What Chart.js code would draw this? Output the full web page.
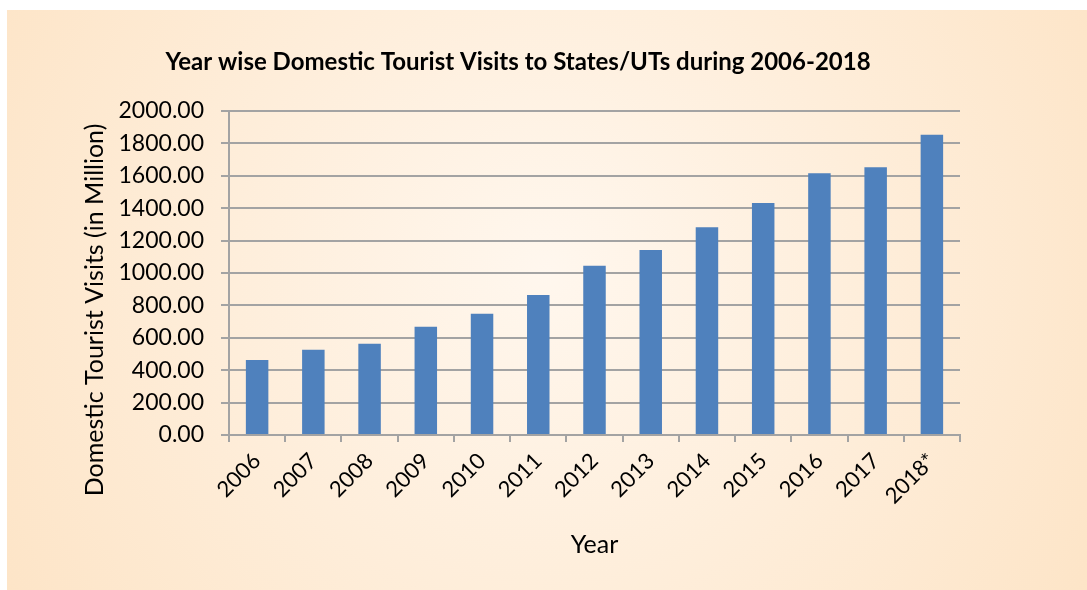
<!DOCTYPE html>
<html>
<head>
<meta charset="utf-8">
<script src="https://cdn.jsdelivr.net/npm/chart.js@4/dist/chart.umd.min.js"></script>
<style>
  html, body { margin: 0; padding: 0; background: #fff; }
  #wrap { position: absolute; left: 7px; top: 10px; width: 1080px; height: 580px; }
</style>
</head>
<body>
<div id="wrap"><canvas id="chart"></canvas></div>
<script>
const years = ['2006', '2007', '2008', '2009', '2010', '2011', '2012', '2013', '2014', '2015', '2016', '2017', '2018*'];
const visits = [462.32, 526.56, 563.03, 668.80, 747.70, 864.53, 1045.05, 1142.53, 1282.80, 1431.97, 1615.39, 1652.49, 1853.79];
const chartTitle = 'Year wise Domestic Tourist Visits to States/UTs during 2006-2018';
const yTitle = 'Domestic Tourist Visits (in Million)';
const xTitle = 'Year';

const FONT = 'Lato, "Open Sans", sans-serif';
const GRID = '#a3a3a3';

// peach background + texts Excel places off-centre
const decor = {
  id: 'decor',
  beforeDraw(chart) {
    const { ctx, width, height } = chart;
    const g = ctx.createRadialGradient(width * 0.5, height * 0.45, 0, width * 0.5, height * 0.45, width * 0.6);
    g.addColorStop(0, '#fff7ee');
    g.addColorStop(1, '#fde4c6');
    ctx.save();
    ctx.fillStyle = g;
    ctx.fillRect(0, 0, width, height);
    ctx.restore();
  },
  afterDraw(chart) {
    const { ctx, chartArea } = chart;
    ctx.save();
    ctx.fillStyle = '#000';
    ctx.textAlign = 'center';
    ctx.textBaseline = 'middle';
    ctx.font = 'bold 24px ' + FONT;
    ctx.fillText(chartTitle, 511, 52);
    ctx.font = '25px ' + FONT;
    ctx.fillText(xTitle, (chartArea.left + chartArea.right) / 2, 535);
    ctx.translate(88, 300);
    ctx.rotate(-Math.PI / 2);
    ctx.fillText(yTitle, 0, 0);
    ctx.restore();
  }
};

new Chart(document.getElementById('chart'), {
  type: 'bar',
  data: {
    labels: years,
    datasets: [{
      label: 'Domestic Tourist Visits',
      data: visits,
      backgroundColor: '#4f81bd',
      barPercentage: 0.4,
      categoryPercentage: 1.0
    }]
  },
  options: {
    responsive: true,
    maintainAspectRatio: false,
    animation: false,
    layout: { padding: { top: 101, right: 127, left: 0, bottom: 0 } },
    plugins: {
      legend: { display: false },
      title: { display: false },
      tooltip: { enabled: false }
    },
    scales: {
      x: {
        grid: { drawOnChartArea: false, drawTicks: true, tickLength: 7, color: GRID, lineWidth: 2, offset: true },
        border: { color: GRID, width: 2 },
        ticks: { color: '#000', font: { family: FONT, size: 22 }, minRotation: 45, maxRotation: 45, padding: 6 },
        afterFit(scale) { scale.height = 155; }
      },
      y: {
        min: 0,
        max: 2000,
        grid: { color: GRID, lineWidth: 2, tickLength: 8 },
        border: { color: GRID, width: 2 },
        ticks: {
          stepSize: 200,
          color: '#000',
          padding: 17,
          font: { family: FONT, size: 23 },
          callback: v => v.toFixed(2)
        },
        afterFit(scale) { scale.width = 222; }
      }
    }
  },
  plugins: [decor]
});
</script>
</body>
</html>
